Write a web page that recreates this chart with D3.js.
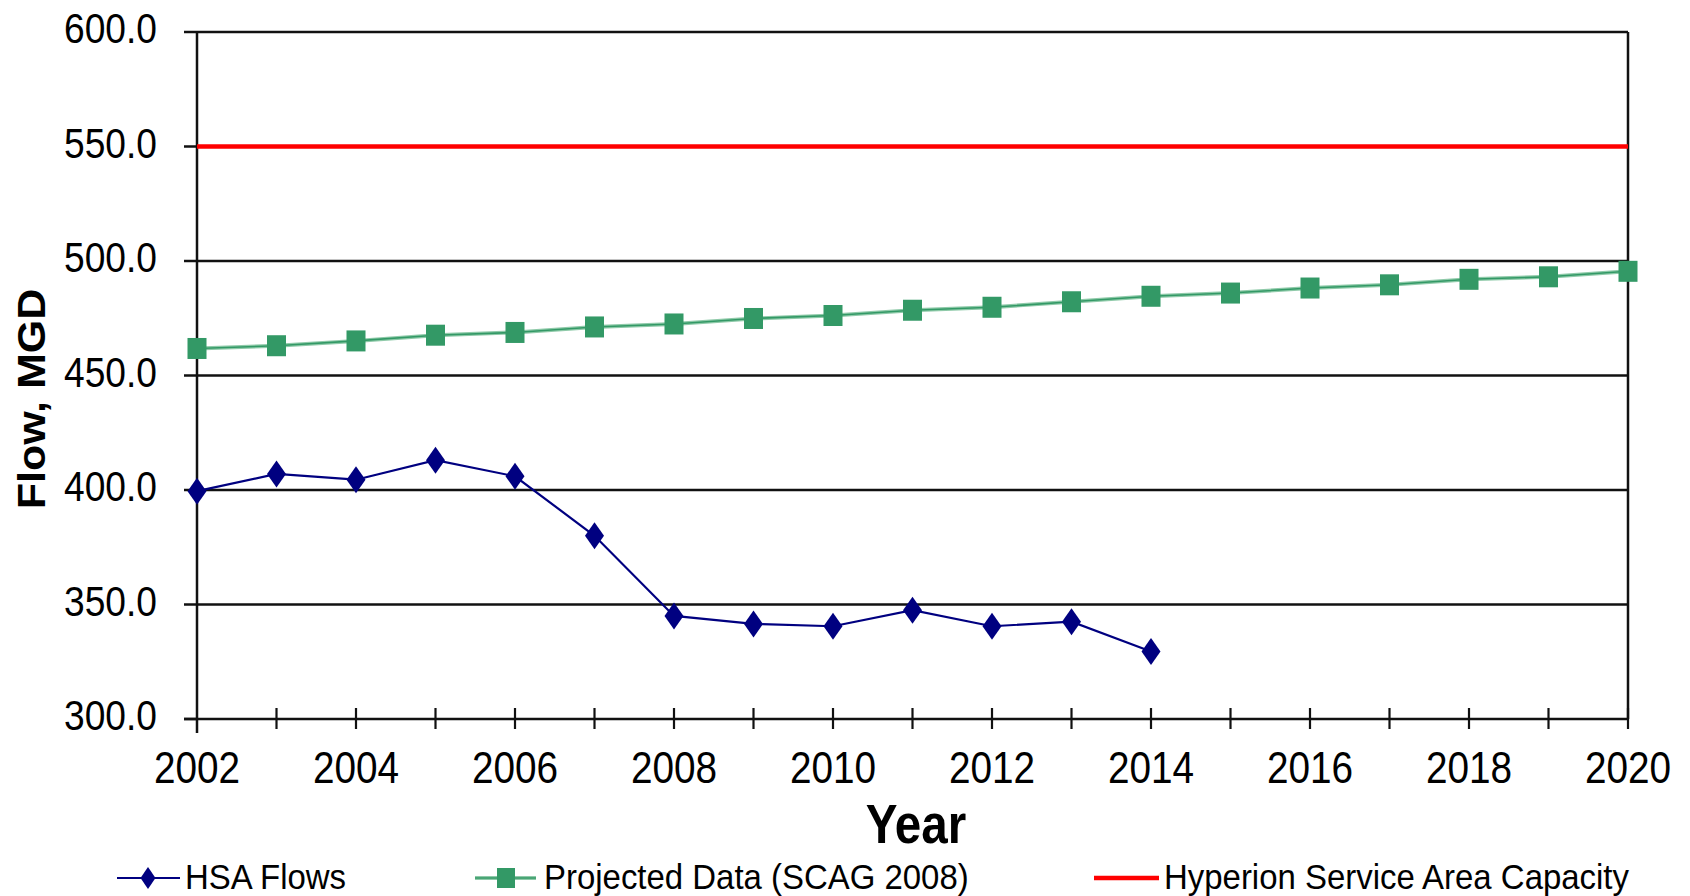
<!DOCTYPE html>
<html>
<head>
<meta charset="utf-8">
<script src="https://cdn.jsdelivr.net/npm/d3@7"></script>
<style>
  html, body { margin: 0; padding: 0; background: #fff; }
  svg { display: block; font-family: "Liberation Sans", Arial, sans-serif; }
</style>
</head>
<body>
<svg id="chart" width="1690" height="896"></svg>
<script>
// Flow history and projections for the Hyperion service area (MGD)
const years = [2002, 2003, 2004, 2005, 2006, 2007, 2008, 2009, 2010, 2011, 2012, 2013, 2014,
               2015, 2016, 2017, 2018, 2019, 2020];
const hsaYears = years.slice(0, 13);
const hsaFlows = [399.5, 407.0, 404.5, 413.0, 406.0, 380.0, 345.0, 341.5, 340.5, 347.5, 340.5, 342.5, 329.5];
const projected = [461.8, 463.0, 465.1, 467.6, 468.8, 471.2, 472.5, 474.9, 476.2, 478.5,
                   479.8, 482.2, 484.6, 486.0, 488.2, 489.6, 492.0, 493.1, 495.5];
const capacity = 550;
const yTicks = [300, 350, 400, 450, 500, 550, 600];
const xTickLabels = [2002, 2004, 2006, 2008, 2010, 2012, 2014, 2016, 2018, 2020];
const seriesNames = ["HSA Flows", "Projected Data (SCAG 2008)", "Hyperion Service Area Capacity"];

const navy = "#000080", green = "#339966", red = "#ff0000";

const svg = d3.select("#chart");
const x = d3.scaleLinear().domain([2002, 2020]).range([197, 1628]);
const y = d3.scaleLinear().domain([300, 600]).range([719, 32]);

// Horizontal gridlines (the top one doubles as the frame)
svg.append("g").selectAll("line").data(yTicks.filter(v => v > 300)).join("line")
  .attr("x1", x(2002)).attr("x2", x(2020))
  .attr("y1", d => y(d)).attr("y2", d => y(d))
  .attr("stroke", "#111").attr("stroke-width", 2.5);

// Right frame
svg.append("line")
  .attr("x1", x(2020)).attr("x2", x(2020)).attr("y1", y(600)).attr("y2", y(300))
  .attr("stroke", "#111").attr("stroke-width", 2.5);

// Y axis with outward ticks
svg.append("line")
  .attr("x1", x(2002)).attr("x2", x(2002)).attr("y1", y(600)).attr("y2", y(300) + 14)
  .attr("stroke", "#111").attr("stroke-width", 2.5);
svg.append("g").selectAll("line").data(yTicks).join("line")
  .attr("x1", x(2002) - 13).attr("x2", x(2002))
  .attr("y1", d => y(d)).attr("y2", d => y(d))
  .attr("stroke", "#111").attr("stroke-width", 2.5);
svg.append("g").selectAll("text").data(yTicks).join("text")
  .attr("transform", d => `translate(157,${y(d) + 11}) scale(0.885,1)`)
  .attr("text-anchor", "end")
  .attr("font-size", 42)
  .attr("fill", "#000")
  .text(d => d.toFixed(1));

// X axis with crossing ticks
svg.append("line")
  .attr("x1", x(2002) - 13).attr("x2", x(2020)).attr("y1", y(300)).attr("y2", y(300))
  .attr("stroke", "#111").attr("stroke-width", 2.5);
svg.append("g").selectAll("line").data(years.slice(1)).join("line")
  .attr("x1", d => x(d)).attr("x2", d => x(d))
  .attr("y1", y(300) - 11).attr("y2", y(300) + 10)
  .attr("stroke", "#111").attr("stroke-width", 2.2);
svg.append("g").selectAll("text").data(xTickLabels).join("text")
  .attr("transform", d => `translate(${x(d)},${y(300) + 64}) scale(0.88,1)`)
  .attr("text-anchor", "middle")
  .attr("font-size", 44)
  .attr("fill", "#000")
  .text(d => d);

// Axis titles
svg.append("text")
  .attr("transform", `translate(916,843) scale(0.85,1)`)
  .attr("text-anchor", "middle")
  .attr("font-size", 56).attr("font-weight", "bold")
  .text("Year");
svg.append("text")
  .attr("transform", `translate(45,399) scale(0.9,1) rotate(-90)`)
  .attr("text-anchor", "middle")
  .attr("font-size", 43).attr("font-weight", "bold")
  .text("Flow, MGD");

// Capacity line
svg.append("line")
  .attr("x1", x(2002)).attr("x2", x(2020))
  .attr("y1", y(capacity)).attr("y2", y(capacity))
  .attr("stroke", red).attr("stroke-width", 4.5);

// Projected flows
const projLine = d3.line().x((d, i) => x(years[i])).y(d => y(d));
svg.append("path").datum(projected)
  .attr("d", projLine).attr("fill", "none")
  .attr("stroke", "#8fcaa9").attr("stroke-width", 4);
svg.append("path").datum(projected)
  .attr("d", projLine).attr("fill", "none")
  .attr("stroke", green).attr("stroke-width", 1.6);
svg.append("g").selectAll("rect").data(projected).join("rect")
  .attr("x", (d, i) => x(years[i]) - 9.5).attr("y", d => y(d) - 10.5)
  .attr("width", 19).attr("height", 21)
  .attr("fill", green);

// Historical HSA flows
const diamond = (w, h) => `M0,${-h / 2}L${w / 2},0L0,${h / 2}L${-w / 2},0Z`;
const hsaLine = d3.line().x((d, i) => x(hsaYears[i])).y(d => y(d));
svg.append("path").datum(hsaFlows)
  .attr("d", hsaLine).attr("fill", "none")
  .attr("stroke", navy).attr("stroke-width", 2.2);
svg.append("g").selectAll("path").data(hsaFlows).join("path")
  .attr("transform", (d, i) => `translate(${x(hsaYears[i])},${y(d)})`)
  .attr("d", diamond(19, 27))
  .attr("fill", navy);

// Legend
const legend = svg.append("g");
const legY = 878;
// HSA Flows
legend.append("line").attr("x1", 117).attr("x2", 180).attr("y1", legY).attr("y2", legY)
  .attr("stroke", navy).attr("stroke-width", 2.2);
legend.append("path").attr("transform", `translate(148,${legY})`)
  .attr("d", diamond(15, 22)).attr("fill", navy);
// Projected
legend.append("line").attr("x1", 475).attr("x2", 536).attr("y1", legY).attr("y2", legY)
  .attr("stroke", "#8fcaa9").attr("stroke-width", 4);
legend.append("line").attr("x1", 475).attr("x2", 536).attr("y1", legY).attr("y2", legY)
  .attr("stroke", green).attr("stroke-width", 1.6);
legend.append("rect").attr("x", 506 - 9).attr("y", legY - 10).attr("width", 18).attr("height", 20)
  .attr("fill", green);
// Capacity
legend.append("line").attr("x1", 1094).attr("x2", 1159).attr("y1", legY).attr("y2", legY)
  .attr("stroke", red).attr("stroke-width", 4.5);

const legX = [185, 544, 1164];
legend.selectAll("text").data(seriesNames).join("text")
  .attr("transform", (d, i) => `translate(${legX[i]},${legY + 11}) scale(0.915,1)`)
  .attr("font-size", 36)
  .attr("fill", "#000")
  .text(d => d);
</script>
</body>
</html>
